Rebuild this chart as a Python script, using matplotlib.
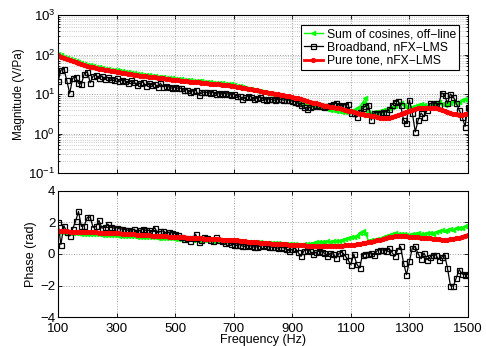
import numpy as np
import matplotlib
matplotlib.use("Agg")
import matplotlib.pyplot as plt
from matplotlib.ticker import LogLocator, NullFormatter

plt.rcParams['font.family'] = ['Liberation Sans', 'DejaVu Sans']

freq = list(range(100, 1501, 10))

labels = ['Sum of cosines, off\u2212line', 'Broadband, nFX\u2212LMS', 'Pure tone, nFX\u2212LMS']

mag_pure = [95, 88, 82, 77, 72, 68, 64, 60, 57, 54,
            51, 49, 47, 45, 43.5, 42, 40.5, 39.5, 38.5, 37.5,
            36.7, 35.5, 34.5, 33.5, 32.5, 31.5, 30.8, 30, 29.2, 28.5,
            28, 27.3, 26.8, 26.2, 25.7, 25.2, 24.8, 24.2, 23.6, 23.1,
            22.6, 22.2, 21.8, 21.4, 21.0, 20.6, 20.2, 19.9, 19.6, 19.3,
            19.0, 18.7, 18.4, 18.1, 17.8, 17.5, 17.2, 16.9, 16.6, 16.3,
            16.0, 15.4, 14.9, 14.4, 13.9, 13.5, 13.1, 12.7, 12.3, 11.9,
            11.5, 11.2, 10.9, 10.6, 10.3, 10.0, 9.7, 9.4, 9.1, 8.8,
            8.5, 8.1, 7.7, 7.3, 6.9, 6.6, 6.3, 6.0, 5.8, 5.5,
            5.3, 5.1, 4.9, 4.8, 4.6, 4.5, 4.3, 4.1, 3.9, 3.8,
            3.7, 3.5, 3.4, 3.2, 3.1, 3.0, 2.9, 2.8, 2.7, 2.6,
            2.5, 2.45, 2.42, 2.45, 2.55, 2.7, 2.9, 3.1, 3.35, 3.6,
            3.8, 4.0, 4.2, 4.35, 4.45, 4.5, 4.55, 4.55, 4.5, 4.35,
            4.15, 3.95, 3.8, 3.6, 3.4, 3.2, 3.1, 3.0, 3.0, 3.1, 3.2]

mag_cos = [103, 95, 89, 83, 78, 73, 69, 65, 62, 58,
           55, 53, 51, 49, 47, 45, 44, 43, 41.5, 40.5,
           39.5, 38.5, 37.3, 36.2, 35.1, 34, 33.2, 32.4, 31.5, 30.8,
           30.2, 29.5, 28.9, 28.3, 27.7, 27.2, 26.8, 26.1, 25.5, 24.9,
           24.4, 24, 23.5, 23.1, 22.7, 22.2, 21.8, 21.5, 21.2, 20.8,
           20.5, 20.2, 19.9, 19.5, 19.2, 18.9, 18.6, 18.2, 17.9, 17.6,
           17, 16.2, 15.5, 14.8, 14.2, 13.6, 13.2, 12.7, 12.2, 11.8,
           11.3, 10.9, 10.5, 10.1, 9.7, 9.3, 8.9, 8.5, 8.1, 7.8,
           7.4, 7.0, 6.6, 6.2, 5.8, 5.5, 5.3, 5.0, 4.8, 4.6,
           4.5, 4.3, 4.1, 4.0, 3.9, 3.8, 3.7, 3.6, 3.5, 3.6,
           3.8, 4.0, 4.3, 4.8, 6.0, 8.0, 3.5, 3.4, 3.5, 3.6,
           3.8, 3.9, 4.1, 4.3, 4.6, 5.0, 5.5, 5.8, 5.2, 4.6,
           4.4, 4.6, 4.9, 5.2, 5.5, 5.2, 5.0, 5.3, 5.7, 6.0,
           6.4, 5.5, 5.2, 5.6, 6.0, 6.5, 5.8, 6.3, 6.9, 7.6, 6.5]

mag_bb = [21, 40, 44, 22, 10.4, 25, 27, 18.7, 17.9, 33,
          37, 19.3, 28.6, 30, 25, 29, 23.6, 26.5, 24, 22,
          25, 21, 23, 21, 19, 22, 20, 17, 19, 20,
          16, 19, 17, 18, 15, 18.6, 15.3, 16, 15, 14,
          15, 13.9, 14, 12.5, 13, 11.4, 12, 12.6, 9.4, 11.5,
          11, 11, 10.5, 11, 10, 10.8, 10, 10.4, 10, 9.5,
          10, 9, 8.8, 7.3, 8.2, 9, 8.5, 7.3, 8, 8.2,
          7.5, 7.05, 7.5, 7.3, 7.0, 7.3, 7.3, 7.0, 7.2, 7.0,
          6.6, 6.4, 5.8, 5.2, 4.6, 4.1, 4.6, 5.0, 5.4, 5.0,
          4.9, 4.8, 5.0, 5.3, 5.6, 5.8, 5.2, 5.0, 5.4, 5.5,
          3.3, 3.3, 2.6, 3.6, 4.3, 5.0, 5.3, 2.2, 3.4, 3.4,
          3.4, 3.5, 3.6, 4.1, 5.3, 6.4, 6.65, 5.3, 2.2, 1.8,
          7.05, 3.3, 1.1, 2.2, 3.3, 2.67, 3.9, 5.8, 5.6, 5.8,
          5.3, 10.8, 9.4, 5.8, 10, 8.5, 5.8, 4.0, 2.67, 1.5, 4.8]

ph_pure = [1.43, 1.43, 1.43, 1.43, 1.42, 1.42, 1.41, 1.41, 1.40, 1.39,
           1.39, 1.38, 1.37, 1.37, 1.36, 1.35, 1.35, 1.34, 1.34, 1.33,
           1.33, 1.31, 1.30, 1.29, 1.27, 1.26, 1.25, 1.23, 1.22, 1.21,
           1.20, 1.19, 1.17, 1.16, 1.15, 1.14, 1.13, 1.12, 1.10, 1.09,
           1.08, 1.07, 1.06, 1.05, 1.04, 1.03, 1.02, 1.01, 1.00, 0.99,
           0.98, 0.97, 0.96, 0.95, 0.94, 0.93, 0.92, 0.92, 0.91, 0.90,
           0.90, 0.87, 0.84, 0.82, 0.80, 0.78, 0.76, 0.75, 0.73, 0.72,
           0.70, 0.69, 0.68, 0.66, 0.65, 0.64, 0.63, 0.62, 0.61, 0.60,
           0.59, 0.58, 0.56, 0.55, 0.54, 0.53, 0.52, 0.51, 0.50, 0.49,
           0.48, 0.48, 0.49, 0.49, 0.50, 0.51, 0.52, 0.53, 0.54, 0.55,
           0.56, 0.58, 0.61, 0.64, 0.68, 0.72, 0.76, 0.79, 0.82, 0.86,
           0.90, 0.95, 1.00, 1.05, 1.10, 1.14, 1.16, 1.16, 1.15, 1.13,
           1.11, 1.09, 1.07, 1.05, 1.03, 1.02, 1.01, 0.99, 0.97, 0.95,
           0.93, 0.91, 0.90, 0.91, 0.93, 0.96, 0.99, 1.04, 1.10, 1.16, 1.22]

ph_cos = [1.38, 1.37, 1.36, 1.35, 1.34, 1.33, 1.32, 1.31, 1.30, 1.29,
          1.28, 1.27, 1.26, 1.25, 1.24, 1.23, 1.22, 1.21, 1.20, 1.19,
          1.18, 1.17, 1.16, 1.15, 1.14, 1.13, 1.12, 1.11, 1.10, 1.09,
          1.08, 1.07, 1.06, 1.05, 1.04, 1.03, 1.02, 1.01, 1.00, 0.99,
          0.98, 0.97, 0.96, 0.95, 0.94, 0.93, 0.92, 0.91, 0.90, 0.89,
          0.88, 0.87, 0.86, 0.85, 0.84, 0.83, 0.83, 0.82, 0.82, 0.82,
          0.82, 0.81, 0.80, 0.79, 0.78, 0.77, 0.76, 0.75, 0.74, 0.73,
          0.72, 0.71, 0.70, 0.69, 0.68, 0.67, 0.66, 0.65, 0.64, 0.63,
          0.62, 0.61, 0.60, 0.60, 0.61, 0.63, 0.66, 0.70, 0.73, 0.76,
          0.75, 0.78, 0.80, 0.78, 0.82, 0.85, 0.83, 0.90, 0.95, 1.00,
          1.05, 1.10, 1.15, 1.35, 1.45, 1.30, 0.85, 0.88, 0.92, 0.95,
          0.98, 1.05, 1.12, 1.20, 1.28, 1.32, 1.30, 1.28, 1.25, 1.22,
          1.20, 1.25, 1.30, 1.33, 1.25, 1.28, 1.32, 1.35, 1.30, 1.40,
          1.45, 1.50, 1.45, 1.55, 1.60, 1.55, 1.62, 1.68, 1.65, 1.75, 1.70]

ph_bb = [2.0, 0.6, 1.8, 1.4, 1.15, 1.6, 2.07, 2.7, 1.75, 1.8,
         2.32, 2.34, 1.68, 1.75, 2.13, 1.64, 1.7, 1.9, 1.7, 1.65,
         1.68, 1.6, 1.58, 1.55, 1.5, 1.45, 1.58, 1.4, 1.5, 1.58,
         1.5, 1.5, 1.4, 1.68, 1.35, 1.43, 1.47, 1.3, 1.4, 1.33,
         1.3, 1.2, 1.1, 0.97, 1.0, 0.8, 1.0, 1.26, 0.76, 0.9,
         1.09, 1.0, 0.9, 0.8, 1.05, 0.9, 0.85, 0.69, 0.75, 0.65,
         0.6, 0.55, 0.6, 0.5, 0.48, 0.55, 0.5, 0.44, 0.45, 0.5,
         0.55, 0.48, 0.45, 0.44, 0.42, 0.38, 0.42, 0.4, 0.3, 0.21,
         0.3, 0.38, 0.1, -0.15, 0.2, 0.27, 0.2, 0.0, 0.1, 0.17,
         0.15, 0.05, -0.15, 0.06, 0.0, -0.25, 0.05, 0.12, -0.1, -0.36,
         -0.68, 0.0, -0.63, -0.89, -0.04, 0.0, 0.03, 0.06, -0.04, 0.21,
         0.27, 0.25, 0.21, 0.38, 0.12, -0.15, 0.27, 0.48, -0.57, -1.31,
         -0.46, 0.38, 0.48, 0.0, -0.3, 0.06, -0.36, -0.2, -0.05, -0.05,
         -0.36, -0.2, -0.05, -0.89, -2.0, -2.05, -1.52, -0.99, -1.27, -1.31, -1.3]

xticks = [100, 300, 500, 700, 900, 1100, 1300, 1500]
ph_ticks = [-4, -2, 0, 2, 4]

fig = plt.figure(figsize=(4.86, 3.46), dpi=100)
ax1 = fig.add_axes([0.1193, 0.5, 0.8436, 0.4566])
ax2 = fig.add_axes([0.1193, 0.0838, 0.8436, 0.3642])

green = (0, 1, 0)
red = (1, 0, 0)

def draw(ax, g, b, r):
    ax.plot(freq, g, color=green, marker='<', markersize=3.5, lw=1.0,
            markeredgewidth=0.5, label=labels[0])
    ax.plot(freq, b, color='k', marker='s', markersize=3.6, lw=0.9,
            markerfacecolor='none', markeredgewidth=0.9, label=labels[1])
    ax.plot(freq, r, color=red, marker='.', markersize=5.5, lw=2.0,
            label=labels[2])

draw(ax1, mag_cos, mag_bb, mag_pure)
draw(ax2, ph_cos, ph_bb, ph_pure)

ax1.set_yscale('log')
ax1.set_ylim(0.1, 1000)
ax1.yaxis.set_major_locator(LogLocator(base=10, numticks=10))
ax1.yaxis.set_minor_locator(LogLocator(base=10, subs=np.arange(2, 10), numticks=10))
ax1.yaxis.set_minor_formatter(NullFormatter())
ax2.set_ylim(-4, 4)
ax2.set_yticks(ph_ticks)

for ax in (ax1, ax2):
    ax.set_xlim(100, 1500)
    ax.set_xticks(xticks)
    ax.tick_params(direction='in', which='both', top=True, right=True,
                   labelsize=9.5, length=3, width=0.6, pad=2)
    ax.tick_params(which='minor', length=1.5)
    ax.grid(True, which='major', linestyle=':', color='#a0a0a0', lw=0.7)
    for s in ax.spines.values():
        s.set_linewidth(0.8)

ax2.tick_params(axis='x', pad=4.5)
ax1.grid(True, which='minor', axis='y', linestyle=':', color='#b8b8b8', lw=0.6)
ax1.set_xticklabels([])
ax2.set_xticklabels([str(t) for t in xticks])

ax1.set_ylabel('Magnitude (V/Pa)', fontsize=8.5, labelpad=2)
ax2.set_ylabel('Phase (rad)', fontsize=9, labelpad=2)
ax2.set_xlabel('Frequency (Hz)', fontsize=9, labelpad=-1)

leg = ax1.legend(loc='upper right', fontsize=8.7, numpoints=1, handlelength=1.6,
                 handletextpad=0.3, borderpad=0.25, labelspacing=0.12,
                 fancybox=False, framealpha=1, edgecolor='k',
                 bbox_to_anchor=(0.993, 0.975))
leg.get_frame().set_linewidth(0.8)

fig.savefig('out.png', dpi=100)
